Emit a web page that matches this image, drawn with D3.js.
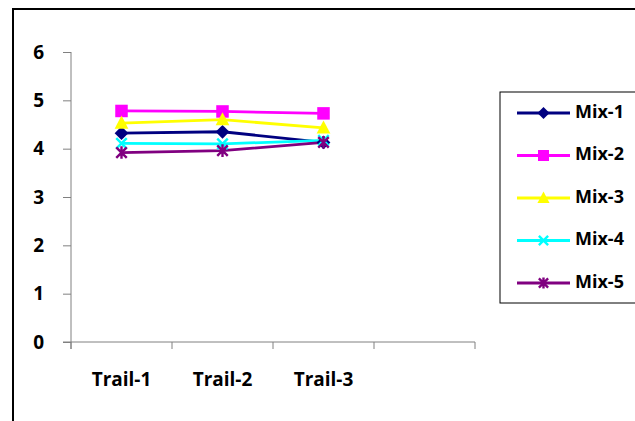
<!DOCTYPE html>
<html>
<head>
<meta charset="utf-8">
<script src="https://cdn.jsdelivr.net/npm/d3@7/dist/d3.min.js"></script>
<style>
  html, body { margin: 0; padding: 0; background: #fff; }
  svg { display: block; font-family: "Open Sans", Lato, sans-serif; font-weight: bold; }
</style>
</head>
<body>
<svg id="chart" width="635" height="421"></svg>
<script>
// Trials on the x axis (a fourth empty slot follows them)
const categories = ["Trail-1", "Trail-2", "Trail-3"];
const slots = ["Trail-1", "Trail-2", "Trail-3", ""];
const yTicks = [0, 1, 2, 3, 4, 5, 6];

const seriesNames = ["Mix-1", "Mix-2", "Mix-3", "Mix-4", "Mix-5"];
const mix1 = [4.32, 4.35, 4.13];
const mix2 = [4.78, 4.77, 4.73];
const mix3 = [4.53, 4.60, 4.43];
const mix4 = [4.11, 4.10, 4.17];
const mix5 = [3.92, 3.96, 4.13];
const seriesValues = [mix1, mix2, mix3, mix4, mix5];
const colors = ["#000080", "#FF00FF", "#FFFF00", "#00FFFF", "#800080"];
const markers = ["diamond", "square", "triangle", "x", "star"];

const svg = d3.select("#chart");

// outer frame
svg.append("rect")
  .attr("x", 13).attr("y", 9)
  .attr("width", 640).attr("height", 430)
  .attr("fill", "none").attr("stroke", "#000").attr("stroke-width", 2);

const x = d3.scaleBand().domain(slots).range([71, 475]);
const y = d3.scaleLinear().domain([0, 6]).range([342, 52]);

// y axis
const yAxis = svg.append("g")
  .attr("transform", "translate(71,0)")
  .call(d3.axisLeft(y).tickValues(yTicks).tickFormat(d3.format("d")).tickSize(8).tickPadding(19));
yAxis.select(".domain").attr("d", `M0,${y(6)}V${y(0) + 7}`);
yAxis.selectAll("line").attr("x2", -8);
yAxis.selectAll(".domain, line").attr("stroke", "#808080");
yAxis.selectAll("text")
  .attr("font-size", 19).attr("font-weight", "bold")
  .attr("font-family", "'Open Sans', sans-serif").attr("fill", "#000");

// x axis with boundary ticks between slots
const xAxis = svg.append("g").attr("transform", `translate(0,${y(0)})`);
xAxis.append("path")
  .attr("d", `M63,0H${x.range()[1]}`)
  .attr("stroke", "#808080").attr("fill", "none");
const bounds = slots.map(s => x(s)).concat([x.range()[1]]);
xAxis.selectAll("line.bound").data(bounds).join("line")
  .attr("class", "bound")
  .attr("x1", d => d).attr("x2", d => d)
  .attr("y1", 0).attr("y2", 7)
  .attr("stroke", "#808080");
xAxis.selectAll("text").data(categories).join("text")
  .attr("x", d => x(d) + x.bandwidth() / 2)
  .attr("y", 39)
  .attr("text-anchor", "middle")
  .attr("dominant-baseline", "middle")
  .attr("font-size", 19)
  .text(d => d);

// marker shapes
function drawMarker(g, type, color, cx, cy, s) {
  const m = g.append("g").attr("transform", `translate(${cx},${cy})`);
  if (type === "diamond") {
    m.append("path").attr("d", `M0,${-s * 0.55}L${s * 0.55},0L0,${s * 0.55}L${-s * 0.55},0Z`).attr("fill", color);
  } else if (type === "square") {
    m.append("rect").attr("x", -s / 2).attr("y", -s / 2).attr("width", s).attr("height", s).attr("fill", color);
  } else if (type === "triangle") {
    m.append("path").attr("d", `M0,${-s * 0.6}L${s * 0.55},${s * 0.45}L${-s * 0.55},${s * 0.45}Z`).attr("fill", color);
  } else if (type === "x") {
    const h = s * 0.42;
    m.append("path").attr("d", `M${-h},${-h}L${h},${h}M${-h},${h}L${h},${-h}`)
      .attr("stroke", color).attr("stroke-width", 2.4);
  } else if (type === "star") {
    const h = s * 0.42;
    m.append("path").attr("d", `M${-h},${-h}L${h},${h}M${-h},${h}L${h},${-h}M0,${-h * 1.2}V${h * 1.2}`)
      .attr("stroke", color).attr("stroke-width", 2.4);
  }
}

const line = d3.line()
  .x((d, i) => x(categories[i]) + x.bandwidth() / 2)
  .y(d => y(d));

const plot = svg.append("g");
seriesValues.forEach((vals, k) => {
  plot.append("path")
    .datum(vals)
    .attr("d", line)
    .attr("fill", "none")
    .attr("stroke", colors[k])
    .attr("stroke-width", 2.8);
});
seriesValues.forEach((vals, k) => {
  vals.forEach((v, i) => {
    drawMarker(plot, markers[k], colors[k], x(categories[i]) + x.bandwidth() / 2, y(v), 12.5);
  });
});

// legend
const legend = svg.append("g");
legend.append("rect")
  .attr("x", 500).attr("y", 92).attr("width", 150).attr("height", 211)
  .attr("fill", "#fff").attr("stroke", "#000").attr("stroke-width", 1);
const legendY = d3.scalePoint().domain(seriesNames).range([113, 283]);
seriesNames.forEach((name, k) => {
  const ly = legendY(name);
  legend.append("line")
    .attr("x1", 517).attr("x2", 570).attr("y1", ly).attr("y2", ly)
    .attr("stroke", colors[k]).attr("stroke-width", 2.8);
  drawMarker(legend, markers[k], colors[k], 543.5, ly, 11);
  legend.append("text")
    .attr("x", 575).attr("y", ly)
    .attr("dominant-baseline", "middle")
    .attr("font-size", 18)
    .text(name);
});
</script>
</body>
</html>
